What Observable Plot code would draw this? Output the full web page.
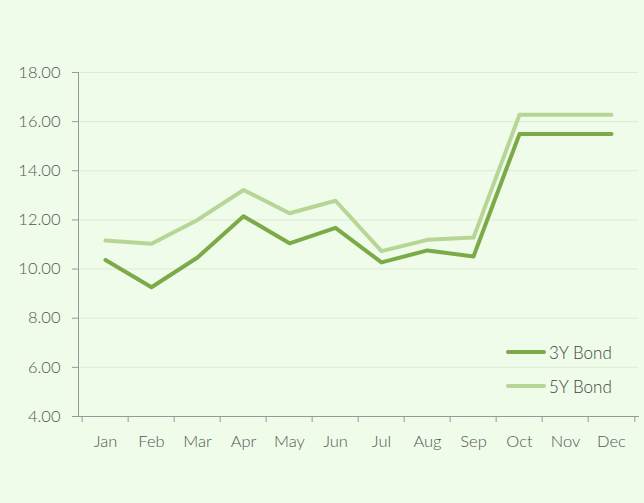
<!DOCTYPE html>
<html>
<head>
<meta charset="utf-8">
<script src="https://cdn.jsdelivr.net/npm/d3@7"></script>
<script src="https://cdn.jsdelivr.net/npm/@observablehq/plot@0.6"></script>
<style>
  html, body { margin: 0; padding: 0; background: #eefce9; }
  #wrap { position: relative; width: 644px; height: 503px; overflow: hidden; }
  #legend { position: absolute; left: 506px; top: 335px; font-family: Lato, "Open Sans", sans-serif; font-weight: 300; font-size: 17px; color: #444; }
  .item { display: flex; align-items: center; height: 34px; }
  .sw { width: 40px; height: 4px; border-radius: 2px; margin-right: 3px; }
</style>
</head>
<body>
<div id="wrap">
  <div id="chart"></div>
  <div id="legend"></div>
</div>
<script>
const months = ["Jan","Feb","Mar","Apr","May","Jun","Jul","Aug","Sep","Oct","Nov","Dec"];
const bond3Y = [10.37, 9.26, 10.47, 12.15, 11.05, 11.68, 10.27, 10.76, 10.51, 15.5, 15.5, 15.5];
const bond5Y = [11.16, 11.03, 12.0, 13.22, 12.27, 12.78, 10.73, 11.19, 11.28, 16.28, 16.28, 16.28];
const seriesNames = ["3Y Bond", "5Y Bond"];
const yTicks = [4, 6, 8, 10, 12, 14, 16, 18];
const colors = ["#7caa48", "#b7d696"];

const data = [];
months.forEach((m, i) => {
  data.push({month: m, series: seriesNames[0], value: bond3Y[i]});
  data.push({month: m, series: seriesNames[1], value: bond5Y[i]});
});

const W = 644, ML = 78, MR = 6;
const half = (W - ML - MR) / months.length / 2;

const chart = Plot.plot({
  width: W,
  height: 503,
  marginLeft: ML,
  marginRight: MR,
  marginTop: 72,
  marginBottom: 87,
  style: {background: "transparent", fontFamily: "Lato, 'Open Sans', sans-serif", fontWeight: 300, fontSize: "16.5px", color: "#555"},
  x: {type: "band", domain: months, padding: 0, label: null},
  y: {domain: [4, 18], label: null},
  color: {domain: seriesNames, range: colors},
  marks: [
    Plot.gridY(yTicks, {stroke: "#dcebd6", strokeOpacity: 1}),
    Plot.axisY({ticks: yTicks, tickFormat: d => d.toFixed(2), tickSize: 6, tickPadding: 12, stroke: "#999", fill: "#555", label: null}),
    Plot.axisX({tickSize: 0, tickPadding: 19, fill: "#555", label: null}),
    Plot.axisX({ticks: months, tickSize: 6, dx: -half, text: null, stroke: "#999", label: null}),
    Plot.axisX({ticks: months.slice(-1), tickSize: 6, dx: half, text: null, stroke: "#999", label: null}),
    Plot.frame({anchor: "left", stroke: "#999"}),
    Plot.frame({anchor: "bottom", stroke: "#999"}),
    Plot.line(data, {x: "month", y: "value", z: "series", stroke: "series", strokeWidth: 4, strokeLinejoin: "round", strokeLinecap: "round"})
  ]
});
document.getElementById("chart").appendChild(chart);

const legend = document.getElementById("legend");
seriesNames.forEach((s, i) => {
  const item = document.createElement("div");
  item.className = "item";
  const sw = document.createElement("div");
  sw.className = "sw";
  sw.style.background = colors[i];
  const t = document.createElement("span");
  t.textContent = s;
  item.appendChild(sw);
  item.appendChild(t);
  legend.appendChild(item);
});
</script>
</body>
</html>
